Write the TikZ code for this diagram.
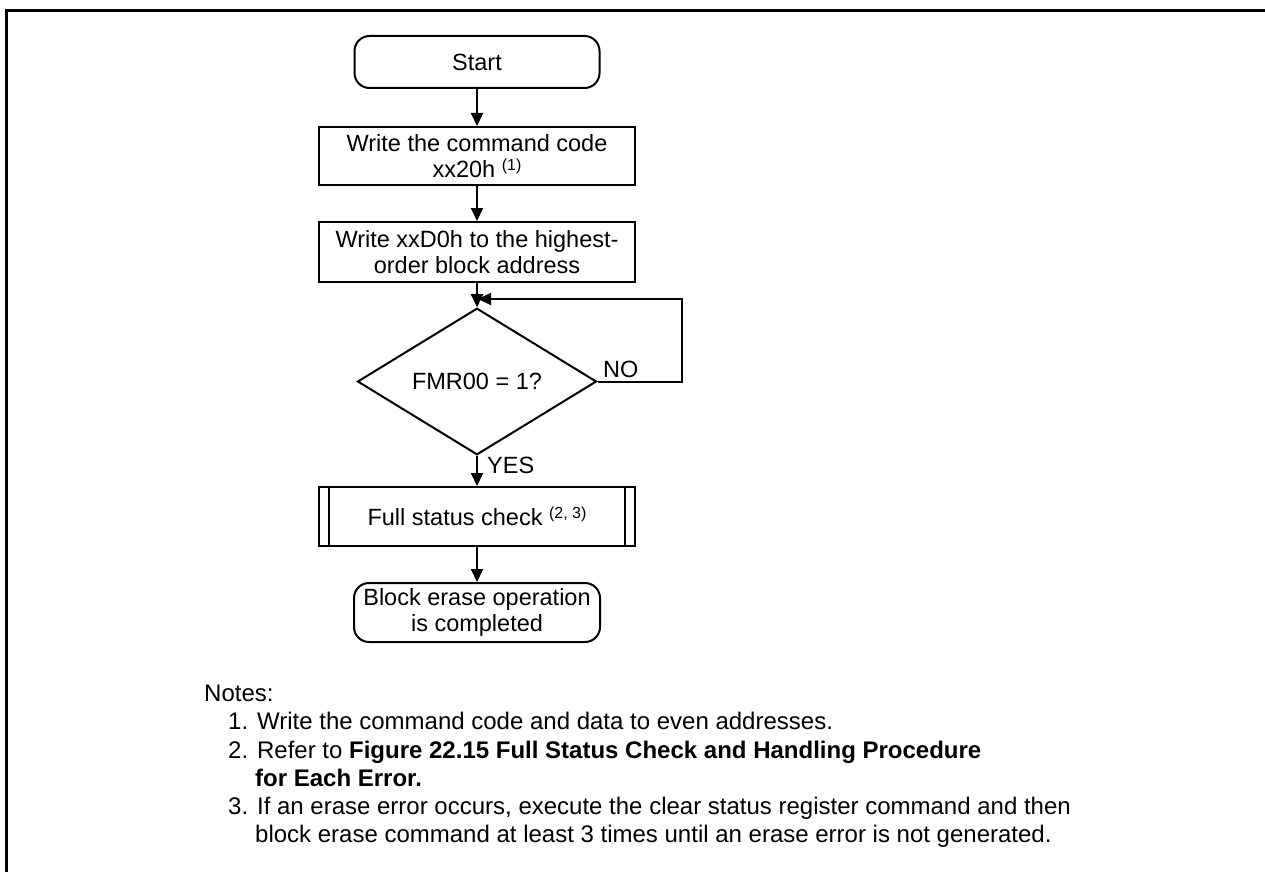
\documentclass[tikz,border=0pt]{standalone}
\usepackage{fontspec}
\setmainfont{Liberation Sans}
\usetikzlibrary{
    arrows.meta,
    positioning,
    calc,
    shapes.geometric
}
\newcommand{\flowfont}{\fontsize{23.5}{25.5}\selectfont}
\newcommand{\notefont}{\fontsize{24}{28}\selectfont}
\newcommand{\fnref}[1]{\raisebox{7pt}{\fontsize{16}{16}\selectfont(#1)}}
\tikzset{
  term/.style    = {draw, line width=2pt, rounded corners=15pt, align=center,
                    inner sep=0pt, font=\flowfont},
  block/.style   = {draw, line width=2pt, align=center, inner sep=0pt,
                    minimum width=316pt, font=\flowfont},
  decide/.style  = {draw, diamond, line width=2pt, inner sep=0pt,
                    minimum width=239pt, minimum height=127pt, font=\flowfont},
  lbl/.style     = {anchor=base west, inner sep=0pt, font=\flowfont},
  note/.style    = {anchor=base west, inner sep=0pt, font=\notefont},
  arr/.style     = {-{Triangle[length=13pt, width=12pt]}, line width=2pt}
}

\begin{document}
\begin{tikzpicture}[x=1pt, y=-1pt]
\useasboundingbox (0,0) rectangle (1265,872);

% frame
\draw[line width=3pt] (6.5,872) -- (6.5,10.5) -- (1265,10.5);

\node[term, minimum width=245pt, minimum height=52pt] (start) at (477,62) {Start};
\node[block, minimum height=58pt] (cmd) at (477,156) {Write the command code\\xx20h \fnref{1}};
\node[block, minimum height=60pt] (blk) at (477,252) {Write xxD0h to the highest-\\order block address};
\node[decide] (chk) at (477,381.5) {FMR00 = 1?};
\node[block, minimum height=59pt] (full) at (477,516.5) {Full status check \fnref{2, 3}};
\node[term, minimum width=246pt, minimum height=59pt] (done) at (477,612.5) {Block erase operation\\is completed};

\draw[line width=2pt] ($(full.north west)+(11,0)$) -- ($(full.south west)+(11,0)$);
\draw[line width=2pt] ($(full.north east)+(-11,0)$) -- ($(full.south east)+(-11,0)$);

\draw[arr] (start) -- (cmd);
\draw[arr] (cmd)   -- (blk);
\draw[arr] (blk)   -- (chk);
\draw[arr] (chk)   -- (full);
\draw[arr] (full)  -- (done);

\coordinate (ret) at (682,299);
\draw[arr] (chk.east) -| (ret) -- ([xshift=1pt]chk.north |- ret);

\node[lbl] (no)  at (603,377) {NO};
\node[lbl] (yes) at (487,473) {YES};

% notes
\node[note] (notes) at (204,701) {Notes:};
\node[note] (n1)  at (228,729) {1. Write the command code and data to even addresses.};
\node[note] (n2)  at (228,758) {2. Refer to \textbf{Figure 22.15 Full Status Check and Handling Procedure}};
\node[note] (n2b) at (255,786) {\textbf{for Each Error.}};
\node[note] (n3)  at (228,814) {3. If an erase error occurs, execute the clear status register command and then};
\node[note] (n3b) at (255,842) {block erase command at least 3 times until an erase error is not generated.};

\end{tikzpicture}
\end{document}
